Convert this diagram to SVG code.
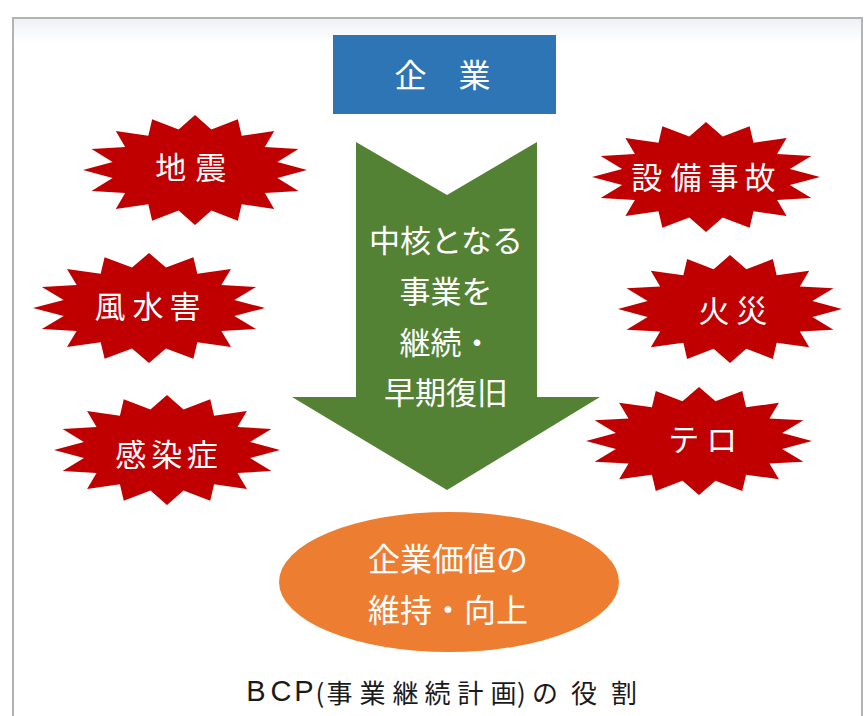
<svg xmlns="http://www.w3.org/2000/svg" xmlns:xlink="http://www.w3.org/1999/xlink" width="867" height="716" viewBox="0 0 867 716">
  <style>
    .wt { font-family: "Noto Sans CJK JP", "Noto Sans", sans-serif; fill: #ffffff; dominant-baseline: central; text-anchor: middle; }
    .burst { fill: #C00000; }
    .cap { font-family: "Noto Sans CJK JP", "Noto Sans", sans-serif; fill: #1a1a1a; dominant-baseline: central; text-anchor: middle; }
    .lat { font-family: "Liberation Sans", "Noto Sans", sans-serif; }
  </style>
  <defs>
    <path id="star16" d="M1,0 L0.73559,-0.14632 L0.92388,-0.38268 L0.62360,-0.41668 L0.70711,-0.70711 L0.41668,-0.62360 L0.38268,-0.92388 L0.14632,-0.73559 L0,-1 L-0.14632,-0.73559 L-0.38268,-0.92388 L-0.41668,-0.62360 L-0.70711,-0.70711 L-0.62360,-0.41668 L-0.92388,-0.38268 L-0.73559,-0.14632 L-1,0 L-0.73559,0.14632 L-0.92388,0.38268 L-0.62360,0.41668 L-0.70711,0.70711 L-0.41668,0.62360 L-0.38268,0.92388 L-0.14632,0.73559 L0,1 L0.14632,0.73559 L0.38268,0.92388 L0.41668,0.62360 L0.70711,0.70711 L0.62360,0.41668 L0.92388,0.38268 L0.73559,0.14632 Z"/>
    <linearGradient id="topshade" x1="0" y1="0" x2="0" y2="1">
      <stop offset="0" stop-color="#eef1f5"/>
      <stop offset="1" stop-color="#ffffff"/>
    </linearGradient>
  </defs>

  <rect x="0" y="0" width="867" height="716" fill="#ffffff"/>
  <g id="frame">
    <rect x="13" y="19" width="849" height="24" fill="url(#topshade)"/>
    <rect x="13" y="18" width="849" height="720" fill="none" stroke="#b3b3b3" stroke-width="2"/>
  </g>

  <g id="connectors">
    <polygon id="core-arrow" points="356,142 447,195 537,142 537,397 600,397 447,490 292,397 356,397" fill="#548235"/>
  </g>

  <g id="kigyo">
    <rect x="333" y="35" width="223" height="79" fill="#2E75B6"/>
    <text class="wt" x="410.5 474.5" y="73" font-size="32">企業</text>
  </g>

  <g id="core-text">
    <text class="wt" x="446" y="238" font-size="31">中核となる</text>
    <text class="wt" x="446" y="289" font-size="31">事業を</text>
    <text class="wt" x="446" y="340" font-size="31">継続・</text>
    <text class="wt" x="446" y="390" font-size="31">早期復旧</text>
  </g>

  <g id="jishin">
    <use xlink:href="#star16" class="burst" transform="translate(195,170) scale(112,55)"/>
    <text class="wt" x="170.7 210.7" y="165" font-size="31">地震</text>
  </g>
  <g id="fusuigai">
    <use xlink:href="#star16" class="burst" transform="translate(149,308) scale(116,55)"/>
    <text class="wt" x="110 148 185" y="304" font-size="31">風水害</text>
  </g>
  <g id="kansensho">
    <use xlink:href="#star16" class="burst" transform="translate(167,450) scale(113,55)"/>
    <text class="wt" x="130.7 166.7 202.3" y="452" font-size="31">感染症</text>
  </g>
  <g id="setsubijiko">
    <use xlink:href="#star16" class="burst" transform="translate(706,177) scale(114,55)"/>
    <text class="wt" x="646.7 686 723.3 760" y="175" font-size="31">設備事故</text>
  </g>
  <g id="kasai">
    <use xlink:href="#star16" class="burst" transform="translate(730,309) scale(112,54)"/>
    <text class="wt" x="714 751.7" y="308" font-size="31">火災</text>
  </g>
  <g id="tero">
    <use xlink:href="#star16" class="burst" transform="translate(699,441) scale(113,54)"/>
    <text class="wt" x="683.7 721.7" y="437" font-size="31">テロ</text>
  </g>

  <g id="kigyokachi">
    <ellipse cx="449" cy="582" rx="170" ry="70" fill="#ED7D31"/>
    <text class="wt" x="448" y="557" font-size="32">企業価値の</text>
    <text class="wt" x="448" y="608" font-size="32">維持・向上</text>
  </g>

  <g id="caption">
    <text class="cap" y="691" font-size="26"><tspan class="lat" x="256 281 304" font-size="29">BCP</tspan><tspan x="320 339.5 372.5 405.5 437.5 470.5 503.5 521.5 545 584 624">(事業継続計画)の役割</tspan></text>
  </g>
</svg>
